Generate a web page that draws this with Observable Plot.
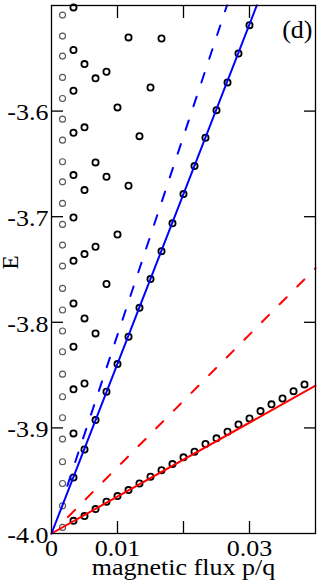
<!DOCTYPE html>
<html><head><meta charset="utf-8">
<script src="https://cdn.jsdelivr.net/npm/d3@7"></script>
<script src="https://cdn.jsdelivr.net/npm/@observablehq/plot@0.6"></script>
<style>html,body{margin:0;padding:0;background:#fff}</style>
</head><body><div id="chart"></div>
<script>
// ---- data ----
const grayFlux = 0.00167;
const grayE = [-3.5091,-3.5290,-3.5479,-3.5681,-3.5880,-3.6076,-3.6275,-3.6480,-3.6670,-3.6874,
  -3.7073,-3.7269,-3.7468,-3.7679,-3.7884,-3.8083,-3.8279,-3.8491,-3.8705,-3.8904,
  -3.9106,-3.9321,-3.9526,-3.9738,-3.9942];
const flux = [0.00333,0.005,0.00667,0.00833,0.01,0.01167,0.01333,0.015,0.01667,0.01833,0.02,
  0.02167,0.02333,0.025,0.02667,0.02833,0.03,0.03167,0.03333,0.035,0.03667,0.03833];
const levelsE = [
  [-3.5018,-3.5422,-3.5808,-3.6205,-3.6606,-3.7007,-3.7418,-3.7821,-3.8232,-3.8635,-3.9052,-3.9469,-3.9880],
  [-3.5555,-3.6154,-3.6748,-3.7354,-3.7963,-3.8579,-3.9204,-3.9835],
  [-3.5690,-3.6486,-3.7285,-3.8105,-3.8926,-3.9769],
  [-3.5628,-3.6622,-3.7638,-3.8658,-3.9700],
  [-3.5965,-3.7168,-3.8396,-3.9646],
  [-3.5302,-3.6707,-3.8137,-3.9589],
  [-3.6237,-3.7863,-3.9526],
  [-3.5776,-3.7591,-3.9463],
  [-3.5312,-3.7326,-3.9400],
  [-3.7063,-3.9343],
  [-3.6786,-3.9279],
  [-3.6521,-3.9226],
  [-3.6253,-3.9153],
  [-3.5991,-3.9099],
  [-3.5728,-3.9037],
  [-3.5454,-3.8967],
  [-3.5186,-3.8910],
  [-3.8841],
  [-3.8777],
  [-3.8721],
  [-3.8652],
  [-3.8588]
];
const blueFitX = [0, 0.0311];
const blueFitE = [-4.0, -3.5];
const blueDashX = [0.0024, 0.02658];
const blueDashE = [-3.9548, -3.5];
const redFitX = [0, 0.04];
const redFitE = [-4.0, -3.860];
const redDashX = [0.0025, 0.04];
const redDashE = [-3.9843, -3.7488];

const xTicks = [0.01, 0.02, 0.03];
const xLabelVals = [0, 0.01, 0.03];
const xLabels = ["0", "0.01", "0.03"];
const yTicks = [-3.9, -3.8, -3.7, -3.6];
const yLabelVals = [-4.0, -3.9, -3.8, -3.7, -3.6];
const yLabels = ["-4.0", "-3.9", "-3.8", "-3.7", "-3.6"];
const xTitle = "magnetic flux p/q";
const yTitle = "E";
const panelTag = "(d)";

// ---- tables ----
const grayPts = grayE.map(e => ({x: grayFlux, y: e}));
const blackPts = flux.flatMap((f, i) => levelsE[i].map(e => ({x: f, y: e})));
const seg = (xs, ys) => xs.map((x, i) => ({x, y: ys[i]}));

const font = "Liberation Serif";
const chart = Plot.plot({
  width: 320, height: 580,
  marginLeft: 51, marginRight: 5, marginTop: 5, marginBottom: 47,
  style: {fontFamily: font, background: "white", color: "black", overflow: "visible"},
  x: {domain: [0, 0.04]},
  y: {domain: [-4.0, -3.5]},
  marks: [
    Plot.dot(grayPts, {x: "x", y: "y", r: 3, stroke: "#555", strokeWidth: 1.1}),
    Plot.dot(blackPts, {x: "x", y: "y", r: 3.1, stroke: "black", strokeWidth: 1.8}),
    Plot.line(seg(redDashX, redDashE), {x: "x", y: "y", stroke: "#ff0000", strokeWidth: 2, strokeDasharray: "10,15"}),
    Plot.line(seg(blueDashX, blueDashE), {x: "x", y: "y", stroke: "#0000ff", strokeWidth: 2, strokeDasharray: "10,15"}),
    Plot.line(seg(redFitX, redFitE), {x: "x", y: "y", stroke: "#ff0000", strokeWidth: 2}),
    Plot.line(seg(blueFitX, blueFitE), {x: "x", y: "y", stroke: "#0000ff", strokeWidth: 2}),
    Plot.frame({stroke: "black", strokeWidth: 1.3}),
    Plot.axisX(xTicks, {anchor: "bottom", tickSize: -12, tickFormat: () => "", label: null, strokeWidth: 1.3}),
    Plot.axisX(xTicks, {anchor: "top", tickSize: -12, tickFormat: () => "", label: null, strokeWidth: 1.3}),
    Plot.axisY(yTicks, {anchor: "left", tickSize: -12, tickFormat: () => "", label: null, strokeWidth: 1.3}),
    Plot.axisY(yTicks, {anchor: "right", tickSize: -12, tickFormat: () => "", label: null, strokeWidth: 1.3}),
    Plot.text(xLabelVals, {x: d => d, text: (d, i) => xLabels[i], frameAnchor: "bottom", lineAnchor: "top", dy: 6, fontSize: 23, fill: "black", className: "stretch"}),
    Plot.text(yLabelVals, {y: d => d, text: (d, i) => yLabels[i], frameAnchor: "left", textAnchor: "end", dx: -3, dy: 2, fontSize: 23, fill: "black", className: "stretch"}),
    Plot.text([xTitle], {frameAnchor: "bottom", lineAnchor: "bottom", dy: 41, fontSize: 23, fill: "black", className: "stretch"}),
    Plot.text([yTitle], {frameAnchor: "left", rotate: -90, dx: -41, fontSize: 23, fill: "black"}),
    Plot.text([panelTag], {frameAnchor: "top-right", textAnchor: "end", lineAnchor: "top", dx: -3, dy: 14, fontSize: 26, fill: "black"})
  ]
});
document.getElementById("chart").appendChild(chart);
// the reference's horizontal lettering is slightly wider than the font: stretch it a little
chart.querySelectorAll(".stretch text").forEach(t => {
  const len = t.getComputedTextLength();
  if (len > 0) {
    t.setAttribute("textLength", (len * 1.13).toFixed(1));
    t.setAttribute("lengthAdjust", "spacingAndGlyphs");
  }
});
</script>
</body></html>
